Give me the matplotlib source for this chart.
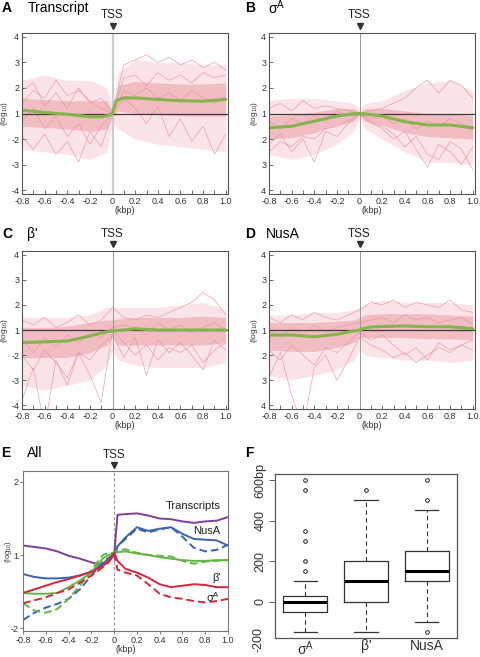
import matplotlib
matplotlib.use('Agg')
import matplotlib.pyplot as plt

plt.rcParams['font.family'] = ['Liberation Sans', 'DejaVu Sans']
plt.rcParams['mathtext.fontset'] = 'custom'
plt.rcParams['mathtext.rm'] = 'Liberation Sans'

# ---- panels A-D: profiles around TSS ----
env_x = [-0.8, -0.6, -0.4, -0.2, -0.05, 0, 0.05, 0.2, 0.4, 0.6, 0.8, 1.0]
trace_x = [-0.8, -0.7, -0.6, -0.5, -0.4, -0.3, -0.2, -0.1, 0, 0.1,
           0.2, 0.3, 0.4, 0.5, 0.6, 0.7, 0.8, 0.9, 1.0]
mean_x = [-0.8, -0.6, -0.4, -0.2, -0.1, -0.05, 0, 0.03, 0.1, 0.2, 0.4, 0.6, 0.8, 1.0]

# Transcript
a_outer_lo = [-1.4, -1.5, -1.6, -1.8, -1.5, -0.3, -0.6, -1.0, -1.2, -1.3, -1.4, -1.5]
a_outer_hi = [1.3, 1.5, 1.3, 1.3, 1.0, 0.3, 1.6, 2.1, 2.0, 2.0, 1.9, 1.9]
a_core_lo = [-0.5, -0.55, -0.6, -0.7, -0.6, -0.1, 0.1, 0.0, -0.05, -0.1, -0.1, -0.1]
a_core_hi = [0.6, 0.55, 0.5, 0.5, 0.5, 0.1, 1.1, 1.25, 1.2, 1.15, 1.15, 1.2]
a_traces = [
    [0.4, 0.9, 0.6, 1.3, 0.7, 0.9, 0.5, 0.2, 0.0, 1.9, 2.1, 2.3, 2.0, 2.2, 1.9, 2.1, 1.8, 2.0, 1.7],
    [-0.9, -1.4, -0.8, -1.6, -1.1, -1.9, -0.7, -1.3, 0.0, 0.6, 0.2, -0.4, 0.3, -0.9, -0.2, -1.1, -0.5, -1.6, -0.8],
    [0.9, 1.2, 0.3, 0.8, 0.2, 1.0, 0.4, 0.6, 0.0, 1.4, 1.5, 1.1, 1.6, 1.3, 1.5, 1.2, 1.6, 1.4, 1.5],
    [-0.3, 0.2, -0.6, -0.1, -0.9, -0.4, -1.2, -0.5, 0.0, 0.9, 0.7, 1.0, 0.6, 0.8, 0.5, 0.9, 0.6, 0.4, 0.7],
]
a_mean = [0.13, 0.04, -0.03, -0.13, -0.13, -0.09, 0, 0.5, 0.61, 0.61, 0.55, 0.5, 0.48, 0.55]

# sigma A
b_outer_lo = [-1.6, -1.8, -1.6, -1.2, -0.7, -0.2, -0.6, -1.0, -1.5, -1.9, -1.9, -2.0]
b_outer_hi = [0.5, 0.6, 0.6, 0.5, 0.4, 0.2, 0.4, 0.5, 0.9, 1.2, 1.3, 0.9]
b_core_lo = [-1.0, -0.95, -0.75, -0.45, -0.3, -0.05, -0.3, -0.45, -0.75, -0.9, -0.95, -1.0]
b_core_hi = [-0.1, -0.05, 0.05, 0.2, 0.2, 0.05, 0.2, 0.2, 0.1, 0.0, 0.0, -0.1]
b_traces = [
    [-1.2, -0.8, -1.5, -1.0, -1.9, -0.7, -0.9, -0.4, 0.0, -0.3, -0.6, -1.0, -0.7, -1.4, -2.1, -1.2, -1.5, -2.0, -1.3],
    [0.2, 0.4, 0.1, 0.5, 0.2, 0.3, 0.2, 0.1, 0.0, 0.1, 0.2, 0.4, 0.6, 1.0, 1.3, 0.8, 1.3, 1.1, 0.6],
    [-0.3, -0.6, -0.2, -0.4, -0.1, -0.3, 0.1, -0.1, 0.0, -0.2, -0.1, -0.4, -0.2, -0.6, -0.3, -0.5, -0.2, -0.4, -0.7],
    [-1.5, -1.1, -1.3, -0.9, -1.0, -0.6, -0.5, -0.3, 0.0, -0.4, -0.5, -0.8, -1.3, -0.9, -1.6, -1.8, -1.1, -1.4, -2.2],
]
b_mean = [-0.56, -0.5, -0.3, -0.1, -0.04, -0.01, 0, -0.01, -0.04, -0.1, -0.32, -0.45, -0.45, -0.56]

# beta'
c_outer_lo = [-2.2, -2.4, -2.2, -2.0, -1.4, -0.8, -1.2, -1.4, -1.5, -1.5, -1.5, -1.3]
c_outer_hi = [0.5, 0.5, 0.5, 0.6, 0.9, 0.9, 0.9, 0.9, 0.9, 1.0, 1.1, 0.8]
c_core_lo = [-1.1, -1.1, -1.1, -0.9, -0.6, -0.3, -0.6, -0.6, -0.6, -0.6, -0.6, -0.5]
c_core_hi = [0.1, 0.1, 0.15, 0.3, 0.4, 0.4, 0.45, 0.5, 0.5, 0.5, 0.55, 0.5]
c_traces = [
    [-2.8, -1.5, -3.9, -1.2, -2.2, -0.9, -1.8, -2.9, 0.0, -0.5, -1.0, -0.6, -1.2, -0.7, -0.9, -0.6, -1.3, -0.8, -0.5],
    [0.4, 0.2, 0.5, 0.1, 0.3, 0.6, 0.2, 0.4, 0.9, 0.5, 0.4, 0.6, 0.5, 0.7, 0.9, 1.1, 1.5, 1.2, 0.6],
    [-1.0, -1.6, -0.8, -1.3, -1.9, -0.9, -1.2, -0.6, -0.2, -1.1, -0.3, -1.8, -0.4, -0.9, -0.5, -1.0, -1.6, -0.4, -0.8],
    [-0.4, -0.9, -0.3, -0.7, -0.2, -0.5, -0.1, -0.3, 0.1, 0.2, 0.1, -0.2, 0.3, 0.0, 0.2, -0.1, 0.1, 0.3, 0.0],
]
c_mean = [-0.5, -0.47, -0.44, -0.24, -0.12, -0.07, -0.04, -0.02, 0, 0.05, 0, 0, 0, 0]

# NusA
d_outer_lo = [-1.8, -2.0, -1.8, -1.6, -1.2, -0.8, -1.0, -1.1, -1.2, -1.2, -1.3, -1.2]
d_outer_hi = [0.6, 0.6, 0.7, 0.7, 0.8, 0.9, 1.0, 1.2, 1.1, 1.1, 1.1, 1.0]
d_core_lo = [-0.8, -0.85, -0.85, -0.7, -0.5, -0.3, -0.3, -0.3, -0.3, -0.35, -0.35, -0.4]
d_core_hi = [0.3, 0.3, 0.3, 0.35, 0.4, 0.5, 0.6, 0.65, 0.65, 0.65, 0.6, 0.55]
d_traces = [
    [-1.9, -0.9, -2.6, -3.9, -1.5, -1.0, -2.0, -1.2, -0.3, -0.6, -0.8, -1.1, -0.9, -1.3, -1.0, -0.7, -0.9, -0.6, -0.8],
    [0.5, 0.3, 0.6, 0.4, 0.7, 0.5, 0.4, 0.6, 0.8, 1.1, 1.0, 1.2, 0.9, 1.1, 1.0, 0.9, 1.2, 0.8, 0.7],
    [-0.8, -1.2, -0.6, -1.0, -1.4, -0.7, -0.9, -0.5, -0.1, -0.4, -0.2, -0.6, -1.0, -0.7, -1.2, -0.5, -0.8, -0.6, -0.4],
    [0.0, -0.3, 0.1, -0.2, 0.2, -0.1, 0.1, 0.2, 0.3, 0.4, 0.5, 0.3, 0.6, 0.4, 0.5, 0.3, 0.4, 0.5, 0.2],
]
d_mean = [-0.2, -0.2, -0.27, -0.17, -0.08, -0.04, 0, 0.05, 0.12, 0.14, 0.16, 0.13, 0.13, 0.05]

ylabels_minus = ['-4', '-3', '-2', '1', '2', '3', '4']
ylabels_plain = ['4', '3', '2', '1', '2', '3', '4']

# ---- panel E: averages ----
e_x = [-0.8, -0.7, -0.6, -0.5, -0.4, -0.3, -0.2, -0.1, -0.05, 0, 0.03,
       0.1, 0.2, 0.3, 0.4, 0.5, 0.6, 0.7, 0.8, 0.9, 1.0]
e_transcripts = [0.13, 0.11, 0.09, 0.05, -0.01, -0.05, -0.1, -0.14, -0.1, 0.0, 0.55,
                 0.56, 0.57, 0.54, 0.5, 0.49, 0.46, 0.44, 0.46, 0.47, 0.52]
e_nusa = [-0.26, -0.3, -0.32, -0.32, -0.31, -0.28, -0.23, -0.12, -0.05, 0.02, 0.12,
          0.24, 0.38, 0.33, 0.36, 0.38, 0.29, 0.22, 0.21, 0.2, 0.13]
e_nusa_d = [-0.89, -0.79, -0.72, -0.67, -0.6, -0.47, -0.28, -0.1, -0.04, 0.0, 0.12,
            0.22, 0.36, 0.31, 0.35, 0.38, 0.25, 0.1, 0.05, 0.07, 0.14]
e_beta = [-0.52, -0.53, -0.53, -0.52, -0.44, -0.35, -0.24, -0.05, 0.0, 0.02, 0.04,
          0.05, 0.02, 0.0, -0.03, -0.05, -0.07, -0.08, -0.08, -0.07, -0.07]
e_beta_d = [-0.66, -0.76, -0.79, -0.74, -0.6, -0.42, -0.21, 0.0, 0.03, 0.03, 0.06,
            0.08, 0.03, 0.0, -0.01, -0.02, -0.08, -0.12, -0.09, -0.08, -0.07]
e_sigma = [-0.52, -0.47, -0.42, -0.37, -0.33, -0.28, -0.23, -0.15, -0.08, 0.03, -0.08,
           -0.19, -0.24, -0.31, -0.4, -0.44, -0.42, -0.4, -0.41, -0.44, -0.44]
e_sigma_d = [-0.66, -0.62, -0.58, -0.52, -0.47, -0.38, -0.28, -0.17, -0.1, 0.01, -0.2,
             -0.24, -0.28, -0.4, -0.53, -0.58, -0.6, -0.63, -0.65, -0.63, -0.6]

# ---- panel F: distance boxplot ----
box_labels = ['σ$^{\\mathregular{A}}$', "β'", 'NusA']
box_med = [0, 100, 150]
box_q1 = [-50, 0, 100]
box_q3 = [25, 200, 250]
box_lo = [-150, -150, -100]
box_hi = [100, 500, 450]
box_out = [[150, 200, 300, 350, 550, 600], [550], [500, 600, -150]]

fig = plt.figure(figsize=(4.8, 6.57), dpi=100)


def frac(x0, y0, x1, y1):
    return [x0 / 480, 1 - y1 / 657, (x1 - x0) / 480, (y1 - y0) / 657]


def ftext(x, y, s, **kw):
    fig.text(x / 480, 1 - y / 657, s, **kw)


def tss(ax, ty, my):
    tr = ax.get_xaxis_transform()
    ax.text(0, ty, 'TSS', transform=tr, ha='center', va='center', fontsize=8.5, color='#222')
    ax.plot([0], [my], marker='v', ms=5, color='#333', transform=tr, clip_on=False)


def profile(ax, olo, ohi, clo, chi, traces, mean, ylabels, tss_style):
    ax.fill_between(env_x, olo, ohi, color='#fbe4e7', lw=0)
    ax.fill_between(env_x, clo, chi, color='#f2bcc3', lw=0)
    for t in traces:
        ax.plot(trace_x, t, color='#e995a1', lw=0.45)
    ax.axvline(0, **tss_style)
    ax.axhline(0, color='#3a3a3a', lw=0.9)
    ax.plot(mean_x, mean, color='#84b54c', lw=2.2, solid_capstyle='round')
    ax.set_xlim(-0.8, 1.02)
    ax.set_ylim(-3.15, 3.15)
    ax.set_xticks([-0.8, -0.6, -0.4, -0.2, 0, 0.2, 0.4, 0.6, 0.8, 1.0],
                  ['-0.8', '-0.6', '-0.4', '-0.2', '0', '0.2', '0.4', '0.6', '0.8', '1.0'])
    ax.set_xticks([-0.7, -0.5, -0.3, -0.1, 0.1, 0.3, 0.5, 0.7, 0.9], minor=True)
    ax.set_yticks([-3, -2, -1, 0, 1, 2, 3], ylabels)
    ax.tick_params(which='both', direction='in', length=3, width=0.6, color='#555',
                   labelsize=6.5, labelcolor='#333', pad=2)
    ax.set_xlabel('(kbp)', fontsize=6.5, labelpad=0, color='#333')
    ax.set_ylabel('(log$_{10}$)', fontsize=6, labelpad=1, color='#333')
    for s in ax.spines.values():
        s.set_color('#555')
        s.set_linewidth(0.8)
    tss(ax, 1.11, 1.045)


axA = fig.add_axes(frac(22, 33, 228, 194))
axB = fig.add_axes(frac(269, 33, 475, 194))
axC = fig.add_axes(frac(22, 251, 228, 409))
axD = fig.add_axes(frac(269, 251, 475, 409))

profile(axA, a_outer_lo, a_outer_hi, a_core_lo, a_core_hi, a_traces, a_mean,
        ylabels_minus, dict(color='#cccccc', lw=1.6))
profile(axB, b_outer_lo, b_outer_hi, b_core_lo, b_core_hi, b_traces, b_mean,
        ylabels_plain, dict(color='#999999', lw=0.7))
profile(axC, c_outer_lo, c_outer_hi, c_core_lo, c_core_hi, c_traces, c_mean,
        ylabels_minus, dict(color='#999999', lw=0.7))
profile(axD, d_outer_lo, d_outer_hi, d_core_lo, d_core_hi, d_traces, d_mean,
        ylabels_plain, dict(color='#999999', lw=0.7))

ftext(2, 8, 'A', fontsize=10, fontweight='bold', va='center')
ftext(28, 8, 'Transcript', fontsize=10, va='center')
ftext(245, 8, 'B', fontsize=10, fontweight='bold', va='center')
ftext(268, 8, 'σ$^{\\mathregular{A}}$', fontsize=10, va='center')
ftext(2, 234, 'C', fontsize=10, fontweight='bold', va='center')
ftext(27, 234, "β'", fontsize=10, va='center')
ftext(245, 234, 'D', fontsize=10, fontweight='bold', va='center')
ftext(266, 234, 'NusA', fontsize=10, va='center')
ftext(1, 453, 'E', fontsize=10, fontweight='bold', va='center')
ftext(27, 453, 'All', fontsize=10, va='center')
ftext(245, 453, 'F', fontsize=10, fontweight='bold', va='center')

# panel E
axE = fig.add_axes(frac(23, 471, 228, 631))
dash = (0, (4, 2))
axE.axvline(0, color='#999999', lw=0.8, ls=(0, (3, 2)))
axE.plot(e_x, e_transcripts, color='#7d3f98', lw=1.4)
axE.plot(e_x, e_nusa_d, color='#3d63b0', lw=1.4, ls=dash)
axE.plot(e_x, e_nusa, color='#3d63b0', lw=1.4)
axE.plot(e_x, e_beta_d, color='#63b446', lw=1.4, ls=dash)
axE.plot(e_x, e_beta, color='#63b446', lw=1.4)
axE.plot(e_x, e_sigma_d, color='#d7263d', lw=1.4, ls=dash)
axE.plot(e_x, e_sigma, color='#d7263d', lw=1.4)
axE.text(0.69, 0.67, 'Transcripts', fontsize=8, ha='center', va='center', color='#222')
axE.text(0.815, 0.33, 'NusA', fontsize=8, ha='center', va='center', color='#222')
axE.text(0.9, -0.32, "β'", fontsize=8, ha='center', va='center', color='#222')
axE.text(0.865, -0.58, 'σ$^{\\mathregular{A}}$', fontsize=8, ha='center', va='center', color='#222')
axE.set_xlim(-0.8, 1.0)
axE.set_ylim(-1.04, 1.15)
axE.set_xticks([-0.8, -0.6, -0.4, -0.2, 0, 0.2, 0.4, 0.6, 0.8, 1.0],
               ['-0.8', '-0.6', '-0.4', '-0.2', '0', '0.2', '0.4', '0.6', '0.8', '1.0'])
axE.set_yticks([-1, 0, 1], ['-2', '1', '2'])
axE.tick_params(direction='out', length=2, width=0.6, color='#666',
                labelsize=6.5, labelcolor='#333', pad=1.5)
axE.set_xlabel('(kbp)', fontsize=6.5, labelpad=0, color='#333')
axE.set_ylabel('(log$_{10}$)', fontsize=5.5, color='#333')
axE.yaxis.set_label_coords(-0.045, 0.5)
for s in axE.spines.values():
    s.set_color('#777')
    s.set_linewidth(0.8)
tss(axE, 1.1, 1.04)

# panel F
axF = fig.add_axes(frac(275, 474, 457, 638))
stats = []
for i in range(3):
    stats.append(dict(med=box_med[i], q1=box_q1[i], q3=box_q3[i],
                      whislo=box_lo[i], whishi=box_hi[i], fliers=box_out[i]))
axF.bxp(stats, positions=[1, 2, 3], widths=0.72, capwidths=0.38,
        boxprops=dict(color='#333', lw=0.9),
        medianprops=dict(color='black', lw=2.2),
        whiskerprops=dict(color='#333', lw=0.8, ls=(0, (4, 3))),
        capprops=dict(color='#333', lw=0.9),
        flierprops=dict(marker='o', ms=2.6, mfc='none', mec='black', mew=0.6))
axF.set_xlim(0.5, 3.5)
axF.set_ylim(-180, 630)
axF.set_xticks([1, 2, 3], box_labels)
axF.set_yticks([0, 200, 400, 600], ['0', '200', '400', '600bp'])
axF.tick_params(axis='y', labelrotation=90, length=4, width=0.6, color='#444',
                labelsize=9, labelcolor='#333', pad=2)
axF.tick_params(axis='x', length=0, labelsize=10, labelcolor='#333', pad=1)
for lab in axF.get_yticklabels():
    lab.set_va('center')
axF.text(-0.06, -185, '-200', transform=axF.get_yaxis_transform(), rotation=90,
         ha='right', va='center', fontsize=9, color='#333', clip_on=False)
for s in axF.spines.values():
    s.set_color('#555')
    s.set_linewidth(0.9)

fig.savefig('out.png', dpi=100)
